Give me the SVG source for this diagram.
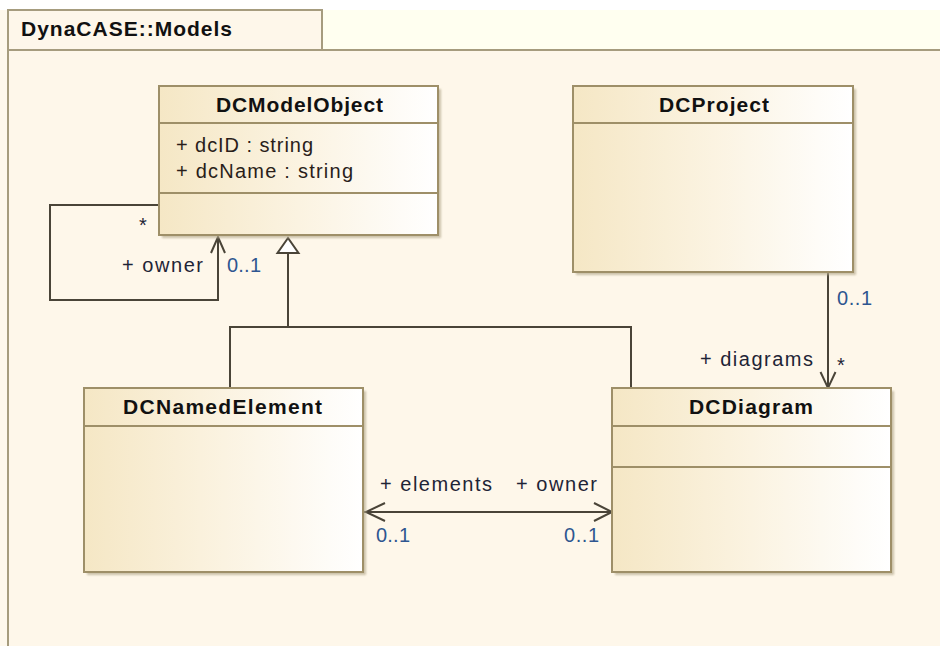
<svg xmlns="http://www.w3.org/2000/svg" width="940" height="646" viewBox="0 0 940 646">
  <defs>
    <linearGradient id="classFill" x1="0" y1="0" x2="1" y2="0">
      <stop offset="0" stop-color="#F5E7C5"/>
      <stop offset="0.5" stop-color="#FBF3E1"/>
      <stop offset="1" stop-color="#FFFFFF"/>
    </linearGradient>
    <filter id="shadow" x="-5%" y="-5%" width="115%" height="115%">
      <feGaussianBlur stdDeviation="1"/>
    </filter>
  </defs>
  <style>
    .frame { fill: #FEF7EA; stroke: #A69C7E; stroke-width: 2; }
    .box { fill: url(#classFill); stroke: #9E8F68; stroke-width: 2; }
    .shade { fill: #B5AB8E; filter: url(#shadow); opacity: 0.7; }
    .div { stroke: #9E8F68; stroke-width: 2; }
    .edge { fill: none; stroke: #4A4438; stroke-width: 2; }
    .title { font-family: "Liberation Sans", Arial, sans-serif; font-weight: bold; font-size: 21px; fill: #111; }
    .attr { font-family: "Liberation Sans", Arial, sans-serif; font-size: 20px; fill: #2A1E1A; }
    .role { font-family: "Liberation Sans", Arial, sans-serif; font-size: 20px; fill: #1E2436; }
    .mult { font-family: "Liberation Sans", Arial, sans-serif; font-size: 20px; fill: #2E5690; }
  </style>

  <!-- canvas -->
  <rect x="0" y="0" width="940" height="646" fill="#FEF8EC"/>
  <rect x="0" y="0" width="940" height="10" fill="#FFFFFF"/>
  <rect x="322" y="10" width="618" height="39" fill="#FFFFF0"/>

  <!-- package frame -->
  <g id="package">
    <rect class="frame" x="8" y="10" width="314" height="40"/>
    <path class="frame" d="M8,50 H942 V660 H8 Z"/>
    <text class="title" x="21" y="36" textLength="211" lengthAdjust="spacing">DynaCASE::Models</text>
  </g>

  <!-- connectors -->
  <g id="connectors">
    <!-- self association on DCModelObject -->
    <path class="edge" d="M159,205 H50 V300 H218 V238"/>
    <path class="edge" d="M211,253 L218,237 L225,253"/>
    <!-- generalization to DCModelObject -->
    <path class="edge" d="M230,388 V327 H631 V388"/>
    <path class="edge" d="M288,327 V253"/>
    <polygon points="288,238 277.5,253 298.5,253" fill="#FFFFFF" stroke="#4A4438" stroke-width="2"/>
    <!-- DCProject to DCDiagram -->
    <path class="edge" d="M828,272 V388"/>
    <path class="edge" d="M820.5,372 L828,388 L835.5,372"/>
    <!-- DCNamedElement and DCDiagram -->
    <path class="edge" d="M364,512 H611"/>
    <path class="edge" d="M385,503 L366,512 L385,521"/>
    <path class="edge" d="M594,503 L612,512 L594,521"/>
  </g>

  <!-- connector labels -->
  <g id="labels">
    <text class="role" x="139" y="232">*</text>
    <text class="role" x="122" y="272" textLength="81" lengthAdjust="spacing">+ owner</text>
    <text class="mult" x="227" y="272" textLength="34" lengthAdjust="spacing">0..1</text>
    <text class="mult" x="837" y="305" textLength="35" lengthAdjust="spacing">0..1</text>
    <text class="role" x="700" y="366" textLength="113" lengthAdjust="spacing">+ diagrams</text>
    <text class="role" x="837" y="372">*</text>
    <text class="role" x="380" y="491" textLength="112" lengthAdjust="spacing">+ elements</text>
    <text class="role" x="516" y="491" textLength="81" lengthAdjust="spacing">+ owner</text>
    <text class="mult" x="376" y="542" textLength="34" lengthAdjust="spacing">0..1</text>
    <text class="mult" x="564" y="542" textLength="35" lengthAdjust="spacing">0..1</text>
  </g>

  <g id="DCModelObject">
    <rect class="shade" x="162" y="89" width="279" height="149"/>
    <rect class="box" x="159" y="86" width="279" height="149"/>
    <line class="div" x1="159" y1="123" x2="438" y2="123"/>
    <line class="div" x1="159" y1="193" x2="438" y2="193"/>
    <text class="title" x="216" y="112" textLength="167" lengthAdjust="spacing">DCModelObject</text>
    <text class="attr" x="176" y="152" textLength="137" lengthAdjust="spacing">+ dcID : string</text>
    <text class="attr" x="176" y="178" textLength="177" lengthAdjust="spacing">+ dcName : string</text>
  </g>

  <g id="DCProject">
    <rect class="shade" x="576" y="89" width="280" height="186"/>
    <rect class="box" x="573" y="86" width="280" height="186"/>
    <line class="div" x1="573" y1="123" x2="853" y2="123"/>
    <text class="title" x="659" y="112" textLength="110" lengthAdjust="spacing">DCProject</text>
  </g>

  <g id="DCNamedElement">
    <rect class="shade" x="87" y="391" width="279" height="184"/>
    <rect class="box" x="84" y="388" width="279" height="184"/>
    <line class="div" x1="84" y1="426" x2="363" y2="426"/>
    <text class="title" x="123" y="414" textLength="199" lengthAdjust="spacing">DCNamedElement</text>
  </g>

  <g id="DCDiagram">
    <rect class="shade" x="615" y="391" width="279" height="184"/>
    <rect class="box" x="612" y="388" width="279" height="184"/>
    <line class="div" x1="612" y1="426" x2="891" y2="426"/>
    <line class="div" x1="612" y1="467" x2="891" y2="467"/>
    <text class="title" x="689" y="414" textLength="124" lengthAdjust="spacing">DCDiagram</text>
  </g>
</svg>
